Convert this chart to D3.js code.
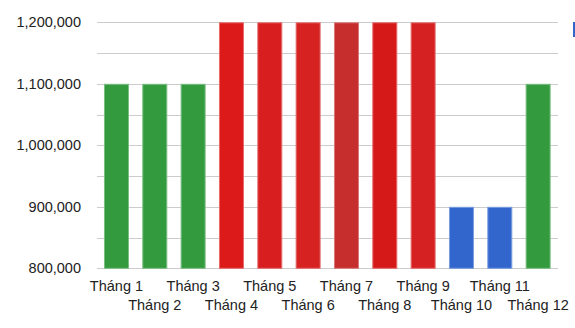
<!DOCTYPE html>
<html>
<head>
<meta charset="utf-8">
<script src="https://cdn.jsdelivr.net/npm/d3@7"></script>
<style>
  html, body { margin: 0; padding: 0; background: #fff; }
  svg { display: block; }
  text { font-family: Arial, "Liberation Sans", sans-serif; }
</style>
</head>
<body>
<svg id="chart" width="575" height="328"></svg>
<script>
const categories = ["Tháng 1","Tháng 2","Tháng 3","Tháng 4","Tháng 5","Tháng 6","Tháng 7","Tháng 8","Tháng 9","Tháng 10","Tháng 11","Tháng 12"];
const values = [1100000,1100000,1100000,1200000,1200000,1200000,1200000,1200000,1200000,900000,900000,1100000];
const barColors = ["#339a3e","#339a3e","#339a3e","#dc1a1a","#d81e1e","#d72222","#c62d2d","#d51919","#d52121","#3366cc","#3366cc","#339a3e"];
const yTicks = [800000,900000,1000000,1100000,1200000];
const yGrid = [800000,850000,900000,950000,1000000,1050000,1100000,1150000,1200000];

const svg = d3.select("#chart");
const x = d3.scaleBand().domain(categories).range([97.3, 557.3]).paddingInner(13.33/38.33).paddingOuter(13.33/38.33/2);
const y = d3.scaleLinear().domain([800000, 1200000]).range([268.3, 22.3]);

// gridlines
svg.append("g").selectAll("line").data(yGrid).join("line")
  .attr("x1", 97).attr("x2", 558)
  .attr("y1", d => Math.round(y(d)) + 0.5).attr("y2", d => Math.round(y(d)) + 0.5)
  .attr("stroke", "#cccccc").attr("stroke-width", 1);

// y axis labels
const yAxis = d3.axisLeft(y).tickValues(yTicks).tickSize(0).tickPadding(0)
  .tickFormat(d3.format(","));
const gy = svg.append("g").attr("transform", "translate(81,0)").call(yAxis);
gy.select(".domain").remove();
gy.selectAll("text").attr("font-size", "14.5px").attr("fill", "#222")
  .attr("font-family", "Arial, 'Liberation Sans', sans-serif");

// bars
svg.append("g").selectAll("rect").data(values).join("rect")
  .attr("x", (d, i) => x(categories[i]) + 0.5)
  .attr("width", x.bandwidth() - 1)
  .attr("y", d => y(d) + 0.5)
  .attr("height", d => y(800000) - y(d) - 0.5)
  .attr("fill", (d, i) => barColors[i])
  .attr("stroke", (d, i) => d3.interpolateRgb(barColors[i], "#ffffff")(0.35))
  .attr("stroke-width", 1);

// x axis labels, staggered
const xAxis = d3.axisBottom(x).tickSize(0).tickPadding(0);
const gx = svg.append("g").attr("transform", "translate(0,0)").call(xAxis);
gx.select(".domain").remove();
gx.selectAll("text")
  .attr("font-size", "14.5px").attr("fill", "#222")
  .attr("font-family", "Arial, 'Liberation Sans', sans-serif")
  .attr("dy", null)
  .attr("y", (d, i) => i % 2 === 0 ? 291 : 310);

// clipped legend marker
svg.append("rect").attr("x", 573).attr("y", 22).attr("width", 8).attr("height", 15).attr("fill", "#3366cc");
</script>
</body>
</html>
